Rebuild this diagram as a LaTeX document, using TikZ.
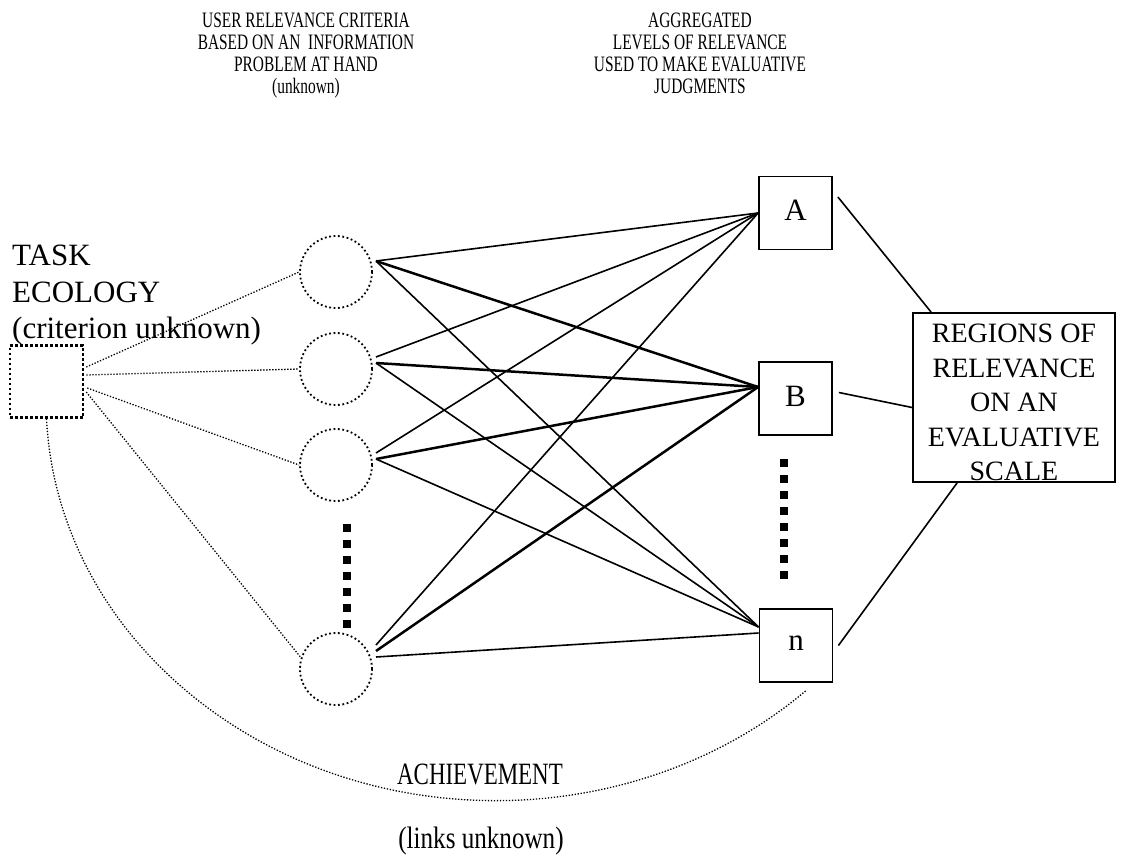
\documentclass[tikz,border=0pt]{standalone}
\usepackage{fontspec}
\setmainfont{Liberation Serif}
\newfontfamily\narrowserif[FakeStretch=0.7]{Liberation Serif}
\newfontfamily\slimserif[FakeStretch=0.74]{Liberation Serif}
\newfontfamily\midserif[FakeStretch=0.81]{Liberation Serif}
\begin{document}
\begin{tikzpicture}[x=1pt,y=-1pt,
  big/.style={font=\fontsize{31}{36.5}\selectfont, inner sep=0pt},
  hdr/.style={font=\narrowserif\fontsize{22}{22}\selectfont, inner sep=0pt, align=center},
  levelbox/.style={draw, line width=1.8pt, minimum size=73pt, inner sep=0pt,
    font=\fontsize{31}{36}\selectfont},
  crit/.style={circle, draw, line width=1.8pt, dash pattern=on 1.8pt off 2.6pt,
    minimum size=72pt, inner sep=0pt},
  link/.style={line width=1.6pt},
  heavylink/.style={line width=2.5pt},
  finedot/.style={line width=1.3pt, dash pattern=on 1.3pt off 1.7pt},
  ellipsis/.style={line width=8pt, dash pattern=on 8pt off 8pt}]
\useasboundingbox (0,0) rectangle (1125,863);

% column headings
\node[hdr, anchor=north] (hl) at (306,12.5)
  {USER RELEVANCE CRITERIA\\BASED ON AN~~INFORMATION\\PROBLEM AT HAND\\(unknown)};
\node[hdr, anchor=north] (hr) at (700,12.5)
  {AGGREGATED\\LEVELS OF RELEVANCE\\USED TO MAKE EVALUATIVE\\JUDGMENTS};

% task ecology
\node[big, anchor=north west, align=left] (task) at (12,245)
  {TASK\\ECOLOGY\\(criterion unknown)};
\node[draw, line width=2.6pt, dash pattern=on 2.6pt off 2.4pt,
  minimum width=73pt, minimum height=72pt, inner sep=0pt] (sq) at (46.5,381.5) {};

% relevance criteria
\node[crit] (c1) at (336,272) {};
\node[crit] (c2) at (336,369) {};
\node[crit] (c3) at (336,465) {};
\node[crit] (c4) at (336,669) {};
\draw[ellipsis] (347,524) -- (347,628);

% aggregated levels
\node[levelbox] (A) at (795.5,213) {\raisebox{5pt}{A}};
\node[levelbox] (B) at (795.5,398.5) {\raisebox{5pt}{B}};
\node[levelbox] (n) at (796,645.5) {\raisebox{4pt}{n}};
\draw[ellipsis] (784,459) -- (784,579);

% evaluative scale
\node[draw, line width=1.8pt, minimum width=202pt, minimum height=169pt,
  inner sep=0pt] (reg) at (1014,397.5) {};
\node[align=center, inner sep=0pt, font=\fontsize{28}{34.5}\selectfont]
  (regtext) at ([yshift=-5pt]reg.center)
  {REGIONS OF\\RELEVANCE\\ON AN\\EVALUATIVE\\SCALE};

% ecology to criteria
\draw[finedot] ([xshift=2pt,yshift=14.5pt]sq.east) -- (c1.west);
\draw[finedot] ([xshift=2pt,yshift=6.5pt]sq.east) -- (c2.west);
\draw[finedot] ([xshift=3pt,yshift=-6.5pt]sq.east) -- (c3.west);
\draw[finedot] ([xshift=2pt,yshift=-10.5pt]sq.east) -- (c4.162);

% criteria to levels
\draw[link] ([xshift=40pt,yshift=11pt]c1.center) -- (A.west);
\draw[heavylink] ([xshift=40pt,yshift=11pt]c1.center) -- ([yshift=11.5pt]B.west);
\draw[link] ([xshift=40pt,yshift=11pt]c1.center) -- ([yshift=18.5pt]n.west);

\draw[link] ([xshift=40pt,yshift=12pt]c2.center) -- (A.west);
\draw[heavylink] ([xshift=40pt,yshift=6pt]c2.center) -- ([yshift=11.5pt]B.west);
\draw[link] ([xshift=40pt,yshift=6pt]c2.center) -- ([yshift=18.5pt]n.west);

\draw[link] ([xshift=40pt,yshift=12pt]c3.center) -- (A.west);
\draw[heavylink] ([xshift=40pt,yshift=6pt]c3.center) -- ([yshift=11.5pt]B.west);
\draw[link] ([xshift=40pt,yshift=6pt]c3.center) -- ([yshift=18.5pt]n.west);

\draw[link] ([xshift=40pt,yshift=24pt]c4.center) -- (A.west);
\draw[heavylink] ([xshift=40pt,yshift=18pt]c4.center) -- ([yshift=11.5pt]B.west);
\draw[link] ([xshift=40pt,yshift=12pt]c4.center) -- ([yshift=12.5pt]n.west);

% levels to the evaluative scale
\draw[link] ([xshift=5pt,yshift=16pt]A.east) -- ([xshift=19pt]reg.north west);
\draw[link] ([xshift=6pt,yshift=6pt]B.east) -- ([yshift=-10pt]reg.west);
\draw[link] ([xshift=5pt]n.east) -- ([xshift=45pt]reg.south west);

% achievement
\draw[finedot] (sq.south) arc[start angle=182.6, end angle=313.5,
  x radius=450pt, y radius=400pt];
\node[anchor=base, inner sep=0pt, font=\slimserif\fontsize{31}{36}\selectfont]
  (ach) at (480,784) {ACHIEVEMENT};
\node[anchor=base, inner sep=0pt, font=\midserif\fontsize{31}{36}\selectfont]
  (links) at (481,848) {(links unknown)};
\end{tikzpicture}
\end{document}
